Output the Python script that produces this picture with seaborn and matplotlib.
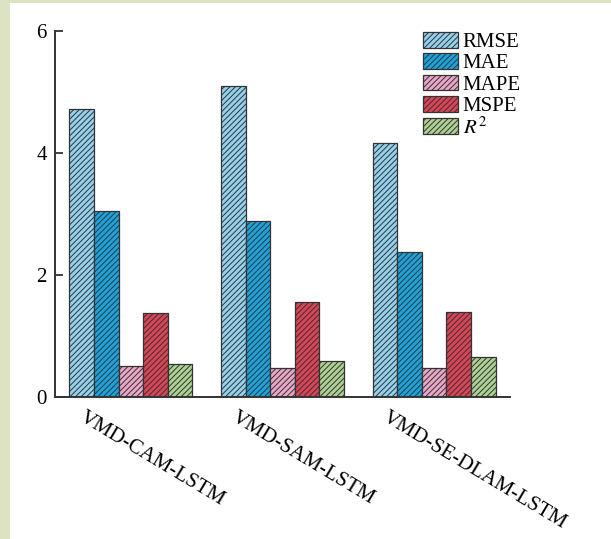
import numpy as np
import pandas as pd
import matplotlib
matplotlib.use("Agg")
import matplotlib.pyplot as plt
import matplotlib.transforms as mtransforms
from matplotlib.patches import Rectangle
import seaborn as sns

# data
models = ['VMD-CAM-LSTM', 'VMD-SAM-LSTM', 'VMD-SE-DLAM-LSTM']
metrics = ['RMSE', 'MAE', 'MAPE', 'MSPE', '$R^2$']
rmse = [4.72, 5.10, 4.17]
mae = [3.05, 2.88, 2.38]
mape = [0.51, 0.48, 0.47]
mspe = [1.37, 1.56, 1.40]
r2 = [0.54, 0.59, 0.65]
yticks = [0, 2, 4, 6]

colors = ['#93d1ee', '#1ba3dd', '#eaa6c6', '#db4456', '#add193']

rows = []
for name, vals in zip(metrics, [rmse, mae, mape, mspe, r2]):
    for m, v in zip(models, vals):
        rows.append({'model': m, 'metric': name, 'value': v})
df = pd.DataFrame(rows)

sns.set_style('ticks')
plt.rcParams['font.family'] = ['Liberation Serif', 'DejaVu Serif']
plt.rcParams['mathtext.fontset'] = 'stix'
plt.rcParams['hatch.linewidth'] = 0.7
plt.rcParams['text.color'] = 'black'
plt.rcParams['xtick.labelcolor'] = 'black'
plt.rcParams['ytick.labelcolor'] = 'black'

fig = plt.figure(figsize=(6.11, 5.39), dpi=100)
fig.patch.set_facecolor('#dce3c3')
# white page inside the green frame
fig.patches.append(Rectangle((10 / 611, 0), 1, 1 - 3 / 539, transform=fig.transFigure,
                             facecolor='white', edgecolor='none', zorder=-10))

ax = fig.add_axes([55 / 611, 142 / 539, 455 / 611, 366 / 539])
ax.set_facecolor('none')

sns.barplot(data=df, x='model', y='value', hue='metric', palette=colors,
            width=0.81, saturation=1, edgecolor='#333333', linewidth=0.9,
            legend=False, ax=ax)

for cont in ax.containers:
    for bar in cont:
        bar.set_hatch('//////')

ax.set_xlim(-0.5, 2.5)
ax.set_ylim(0, 6)
ax.set_yticks(yticks)
ax.set_xlabel('')
ax.set_ylabel('')
sns.despine(ax=ax)
for s in ['left', 'bottom']:
    ax.spines[s].set_linewidth(1.4)
    ax.spines[s].set_color('#333333')

ax.tick_params(axis='y', direction='in', length=6, width=1.3, color='#333333',
               labelsize=15, pad=6, labelcolor='black')
ax.tick_params(axis='x', length=0, labelsize=15, pad=8, labelcolor='black')

offset = mtransforms.ScaledTranslation(-45 / 100, 0, fig.dpi_scale_trans)
for lab in ax.get_xticklabels():
    lab.set_rotation(-31)
    lab.set_ha('left')
    lab.set_va('top')
    lab.set_rotation_mode('anchor')
    lab.set_transform(lab.get_transform() + offset)

ax.legend(ax.containers, metrics, loc='upper left',
          bbox_to_anchor=(423 / 611, 1 - 32 / 539), bbox_transform=fig.transFigure,
          frameon=False, fontsize=15, handlelength=1.7, handleheight=0.8,
          handletextpad=0.2, labelspacing=0.05, borderpad=0, borderaxespad=0,
          labelcolor='black')

fig.savefig('out.png', dpi=100, facecolor=fig.get_facecolor())
